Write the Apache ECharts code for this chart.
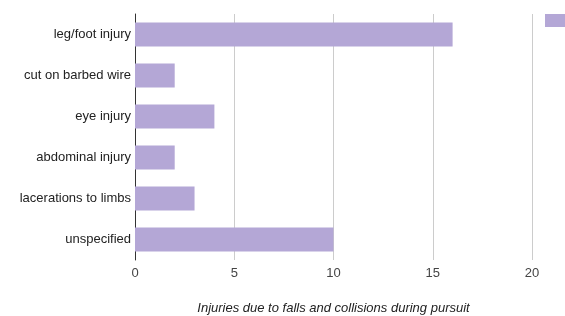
<!DOCTYPE html>
<html>
<head>
<meta charset="utf-8">
<script src="https://cdn.jsdelivr.net/npm/echarts@6/dist/echarts.min.js"></script>
<style>
html,body{margin:0;padding:0;background:#fff;}
#c{width:565px;height:316px;}
</style>
</head>
<body>
<div id="c"></div>
<script>
const categories = ["leg/foot injury", "cut on barbed wire", "eye injury", "abdominal injury", "lacerations to limbs", "unspecified"];
const values = [16, 2, 4, 2, 3, 10];
const xTicks = [0, 5, 10, 15, 20];
const seriesName = "Injuries";
const axisTitle = "Injuries due to falls and collisions during pursuit";

const chart = echarts.init(document.getElementById('c'), null, {renderer: 'canvas'});
chart.setOption({
  animation: false,
  textStyle: {fontFamily: 'Liberation Sans, Arial, sans-serif'},
  legend: {
    show: true,
    left: 545, top: 14, padding: 0,
    icon: 'rect', itemWidth: 24, itemHeight: 13,
    data: [seriesName],
    textStyle: {color: '#222', fontSize: 13}
  },
  grid: {left: 135, right: 33, top: 14, bottom: 56, containLabel: false, outerBoundsMode: 'none'},
  xAxis: {
    type: 'value', min: xTicks[0], max: xTicks[xTicks.length - 1], interval: 5,
    name: axisTitle, nameLocation: 'middle', nameGap: 42,
    nameTextStyle: {fontStyle: 'italic', color: '#222', fontSize: 13},
    axisLine: {show: false},
    axisTick: {show: false},
    axisLabel: {color: '#444', fontSize: 13, margin: 7},
    splitLine: {show: true, lineStyle: {color: '#ccc', width: 1}}
  },
  yAxis: {
    type: 'category', data: categories, inverse: true,
    axisLine: {show: true, lineStyle: {color: '#333', width: 1}},
    axisTick: {show: false},
    axisLabel: {color: '#222', fontSize: 13, margin: 4}
  },
  series: [{
    name: seriesName, type: 'bar', data: values,
    barWidth: '58%',
    itemStyle: {color: '#b4a7d6'}
  }]
});
</script>
</body>
</html>
